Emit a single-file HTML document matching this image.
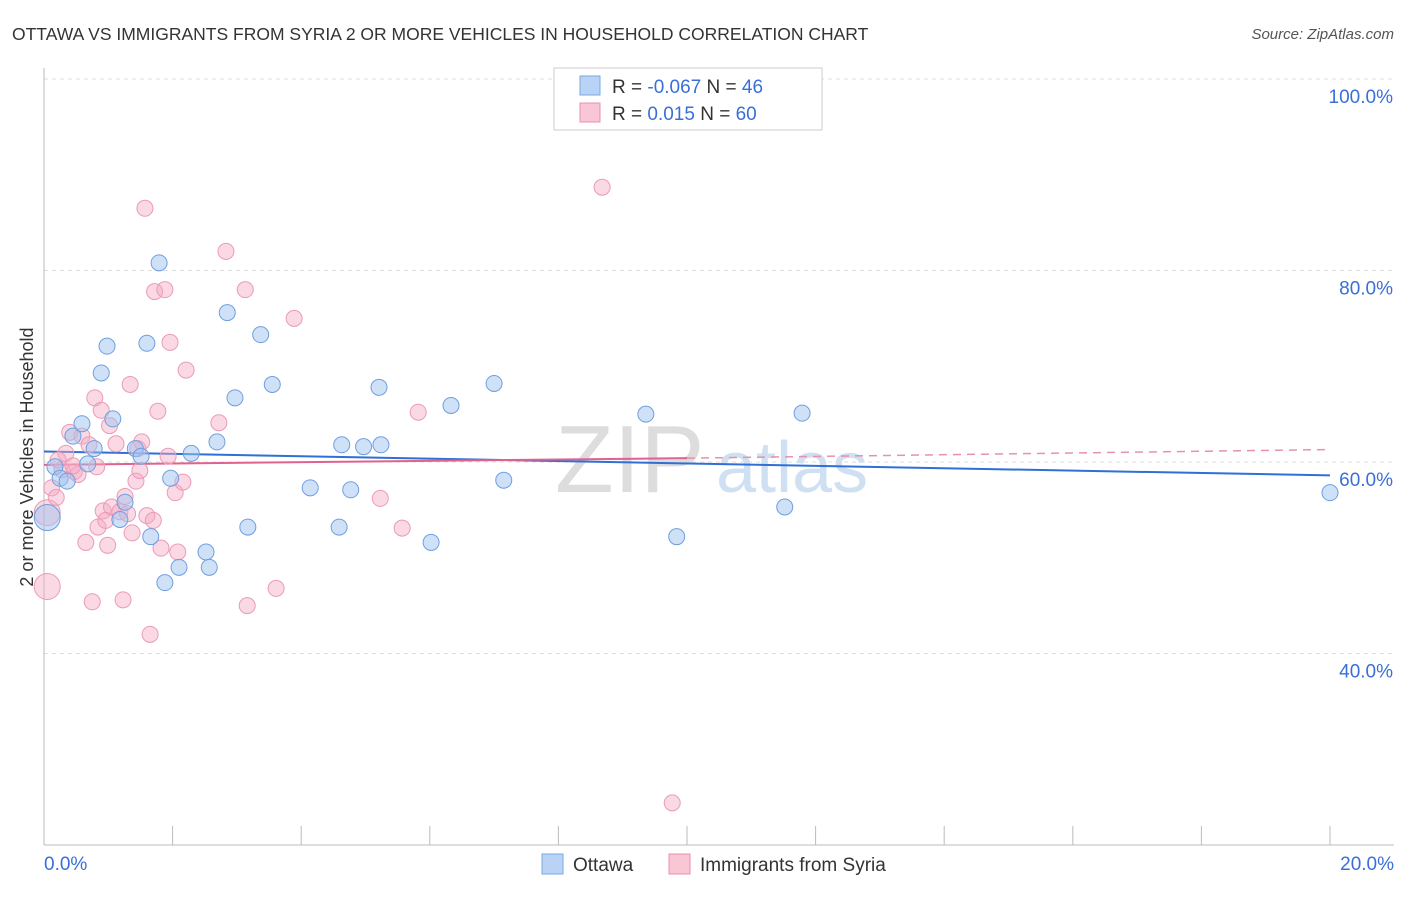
<!DOCTYPE html>
<html><head><meta charset="utf-8">
<style>
body{margin:0;background:#fff;font-family:"Liberation Sans",sans-serif;}
svg text{font-family:"Liberation Sans",sans-serif;}
</style></head>
<body>
<svg width="1406" height="892" viewBox="0 0 1406 892">
<text x="12" y="40" font-size="17.5" fill="#333">OTTAWA VS IMMIGRANTS FROM SYRIA 2 OR MORE VEHICLES IN HOUSEHOLD CORRELATION CHART</text>
<text x="1394" y="39" font-size="15" fill="#555" font-style="italic" text-anchor="end">Source: ZipAtlas.com</text>
<text x="33" y="457" font-size="18" fill="#333" text-anchor="middle" transform="rotate(-90 33 457)">2 or more Vehicles in Household</text>
<g><text x="555" y="492" font-size="96" fill="#ddd" font-family="Liberation Serif">ZIP</text><text x="716" y="492" font-size="72" fill="#cfe0f3">atlas</text></g>
<g id="grid"></g><g id="axes"></g><g id="trend"></g><g id="pts"></g>
<g>
<rect x="554" y="68" width="268" height="62" fill="#fff" stroke="#ccc"/>
<rect x="580" y="76" width="20" height="19" fill="#b8d3f5" stroke="#7aa8e0"/>
<rect x="580" y="103" width="20" height="19" fill="#f9c6d6" stroke="#e890b0"/>
<text x="612" y="93" font-size="19" fill="#333">R = <tspan fill="#3a6fd8">-0.067</tspan>   N = <tspan fill="#3a6fd8">46</tspan></text>
<text x="612" y="120" font-size="19" fill="#333">R =  <tspan fill="#3a6fd8"> 0.015</tspan>   N = <tspan fill="#3a6fd8">60</tspan></text>
</g>
<g>
<rect x="542" y="854" width="21" height="20" fill="#b8d3f5" stroke="#7aa8e0"/>
<text x="573" y="871" font-size="19" fill="#333">Ottawa</text>
<rect x="669" y="854" width="21" height="20" fill="#f9c6d6" stroke="#e890b0"/>
<text x="700" y="871" font-size="19" fill="#333">Immigrants from Syria</text>
</g>
</svg>
<script>
const yTicks=[40,60,80,100];
const yTickLabels=["40.0%","60.0%","80.0%","100.0%"];
const xTickLabels=["0.0%","20.0%"];
const ottawaX=[0.17,0.05,0.25,0.36,0.45,0.59,0.68,0.78,0.89,0.98,1.07,1.18,1.26,1.42,1.51,1.60,1.66,1.79,1.88,1.97,2.10,2.29,2.52,2.57,2.69,2.85,2.97,3.17,3.37,3.55,4.14,4.59,4.63,4.77,4.97,5.21,5.24,6.02,6.33,7.0,7.15,9.36,9.84,11.52,11.79,20.0];
const ottawaY=[59.5,54.2,58.3,58.0,62.7,64.0,59.8,61.4,69.3,72.1,64.5,54.0,55.8,61.4,60.6,72.4,52.2,80.8,47.4,58.3,49.0,60.9,50.6,49.0,62.1,75.6,66.7,53.2,73.3,68.1,57.3,53.2,61.8,57.1,61.6,67.8,61.8,51.6,65.9,68.2,58.1,65.0,52.2,55.3,65.1,56.8];
const syriaX=[0.05,0.05,0.12,0.19,0.28,0.34,0.40,0.47,0.53,0.59,0.65,0.70,0.75,0.79,0.84,0.89,0.92,0.96,0.99,1.05,1.12,1.18,1.23,1.26,1.34,1.37,1.43,1.46,1.52,1.57,1.60,1.65,1.70,1.72,1.77,1.82,1.88,1.93,1.96,2.04,2.08,2.16,2.21,2.72,2.83,3.13,3.16,3.61,3.89,5.23,5.57,5.82,8.68,9.77,0.22,0.82,1.30,1.02,0.45,1.49];
const syriaY=[54.7,47.0,57.3,56.3,59.2,60.9,63.1,59.0,58.7,62.7,51.6,61.8,45.4,66.7,53.2,65.4,54.9,53.9,51.3,55.3,61.9,54.8,45.6,56.4,68.1,52.6,58.0,61.4,62.1,86.5,54.4,42.0,53.9,77.8,65.3,51.0,78.0,60.6,72.5,56.8,50.6,57.9,69.6,64.1,82.0,78.0,45.0,46.8,75.0,56.2,53.1,65.2,88.7,24.4,60.2,59.5,54.6,63.8,59.6,59.1];
const syriaBig=[true,true];
const ottawaBig=[false,true];
const trendO=[61.1,58.6];
const trendS=[59.7,60.4,61.3];
const NS="http://www.w3.org/2000/svg";
const xs=v=>44+v*64.3, ys=v=>845-(v-20)*9.575;
function mk(t,a,p){const e=document.createElementNS(NS,t);for(const k in a)e.setAttribute(k,a[k]);document.getElementById(p).appendChild(e);return e;}
yTicks.forEach((t,i)=>{
 const g=mk('line',{x1:44,x2:1394,y1:ys(t),y2:ys(t),stroke:'#ddd','stroke-dasharray':'4,4'},'grid');
 
 
 const l=mk('text',{x:1393,y:ys(t)+24,'font-size':19,fill:'#3a6fd8','text-anchor':'end'},'axes');
 l.textContent=yTickLabels[i];
 
 
});
mk('line',{x1:44,x2:44,y1:68,y2:845,stroke:'#bbb'},'axes');
mk('line',{x1:44,x2:1394,y1:845,y2:845,stroke:'#bbb'},'axes');
for(let i=0;i<=10;i++){mk('line',{x1:xs(i*2),x2:xs(i*2),y1:826,y2:845,stroke:'#bbb'},'axes');}
[[0,44,'start'],[20,1394,'end']].forEach((d,i)=>{
 const l=mk('text',{x:d[1],y:870,'font-size':19,fill:'#3a6fd8','text-anchor':d[2]},'axes');
 l.textContent=xTickLabels[i];
 
 
});
const tb=mk('line',{x1:xs(0),x2:xs(20),y1:ys(trendO[0]),y2:ys(trendO[1]),stroke:'#2f6fd6','stroke-width':2},'trend');


const tp=mk('line',{x1:xs(0),x2:xs(10),y1:ys(trendS[0]),y2:ys(trendS[1]),stroke:'#e0628e','stroke-width':2},'trend');


const td=mk('line',{x1:xs(10),x2:xs(20),y1:ys(trendS[1]),y2:ys(trendS[2]),stroke:'#e890b0','stroke-width':1.5,'stroke-dasharray':'8,6'},'trend');


syriaX.forEach((x,i)=>{
 const c=mk('circle',{cx:xs(x),cy:ys(syriaY[i]),r:syriaBig[i]?13:8,fill:'rgba(245,170,195,0.45)',stroke:'#eb9ab8','stroke-width':1},'pts');
 
 
});
ottawaX.forEach((x,i)=>{
 const c=mk('circle',{cx:xs(x),cy:ys(ottawaY[i]),r:ottawaBig[i]?13:8,fill:'rgba(160,195,240,0.5)',stroke:'#6f9fe0','stroke-width':1},'pts');
 
 
});
</script>
</body></html>
